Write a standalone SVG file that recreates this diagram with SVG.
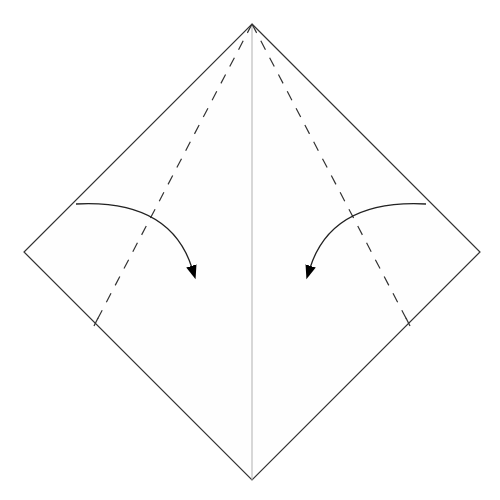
<svg xmlns="http://www.w3.org/2000/svg" width="500" height="500" viewBox="0 0 500 500">
<style>
.edge{fill:#fefefe;stroke:#333;stroke-width:1.2}
.center{stroke:#b0b0b0;stroke-width:1;fill:none}
.valley{stroke:#333;stroke-width:1.2;stroke-dasharray:10,9;fill:none}
.tick{stroke:#333;stroke-width:1.2;fill:none}
.arrow{stroke:#222;stroke-width:1.3;fill:none;marker-end:url(#ah)}
</style>
<defs>
<marker id="ah" markerWidth="15" markerHeight="12" refX="2" refY="5" orient="auto" markerUnits="userSpaceOnUse" viewBox="0 0 14 10">
<path d="M0,0 L13,5 L0,10 Z" fill="#000"/>
</marker>
</defs>
<rect width="500" height="500" fill="#fff"/>
<g id="paper">
<polygon class="edge" points="252,24 480,252 252,480 24,252"/>
<line class="center" x1="252" y1="24" x2="252" y2="480"/>
</g>
<g id="folds">
<line class="valley" x1="252" y1="24" x2="96" y2="322"/>
<line class="tick" x1="98" y1="318" x2="94" y2="326"/>
<line class="valley" x1="252" y1="24" x2="408" y2="322"/>
<line class="tick" x1="406" y1="318" x2="410" y2="326"/>
</g>
<g id="connectors">
<path class="arrow" d="M76,204 Q170,199 192,268"/>
<path class="arrow" d="M426,204 Q332,199 310,268"/>
</g>
</svg>
